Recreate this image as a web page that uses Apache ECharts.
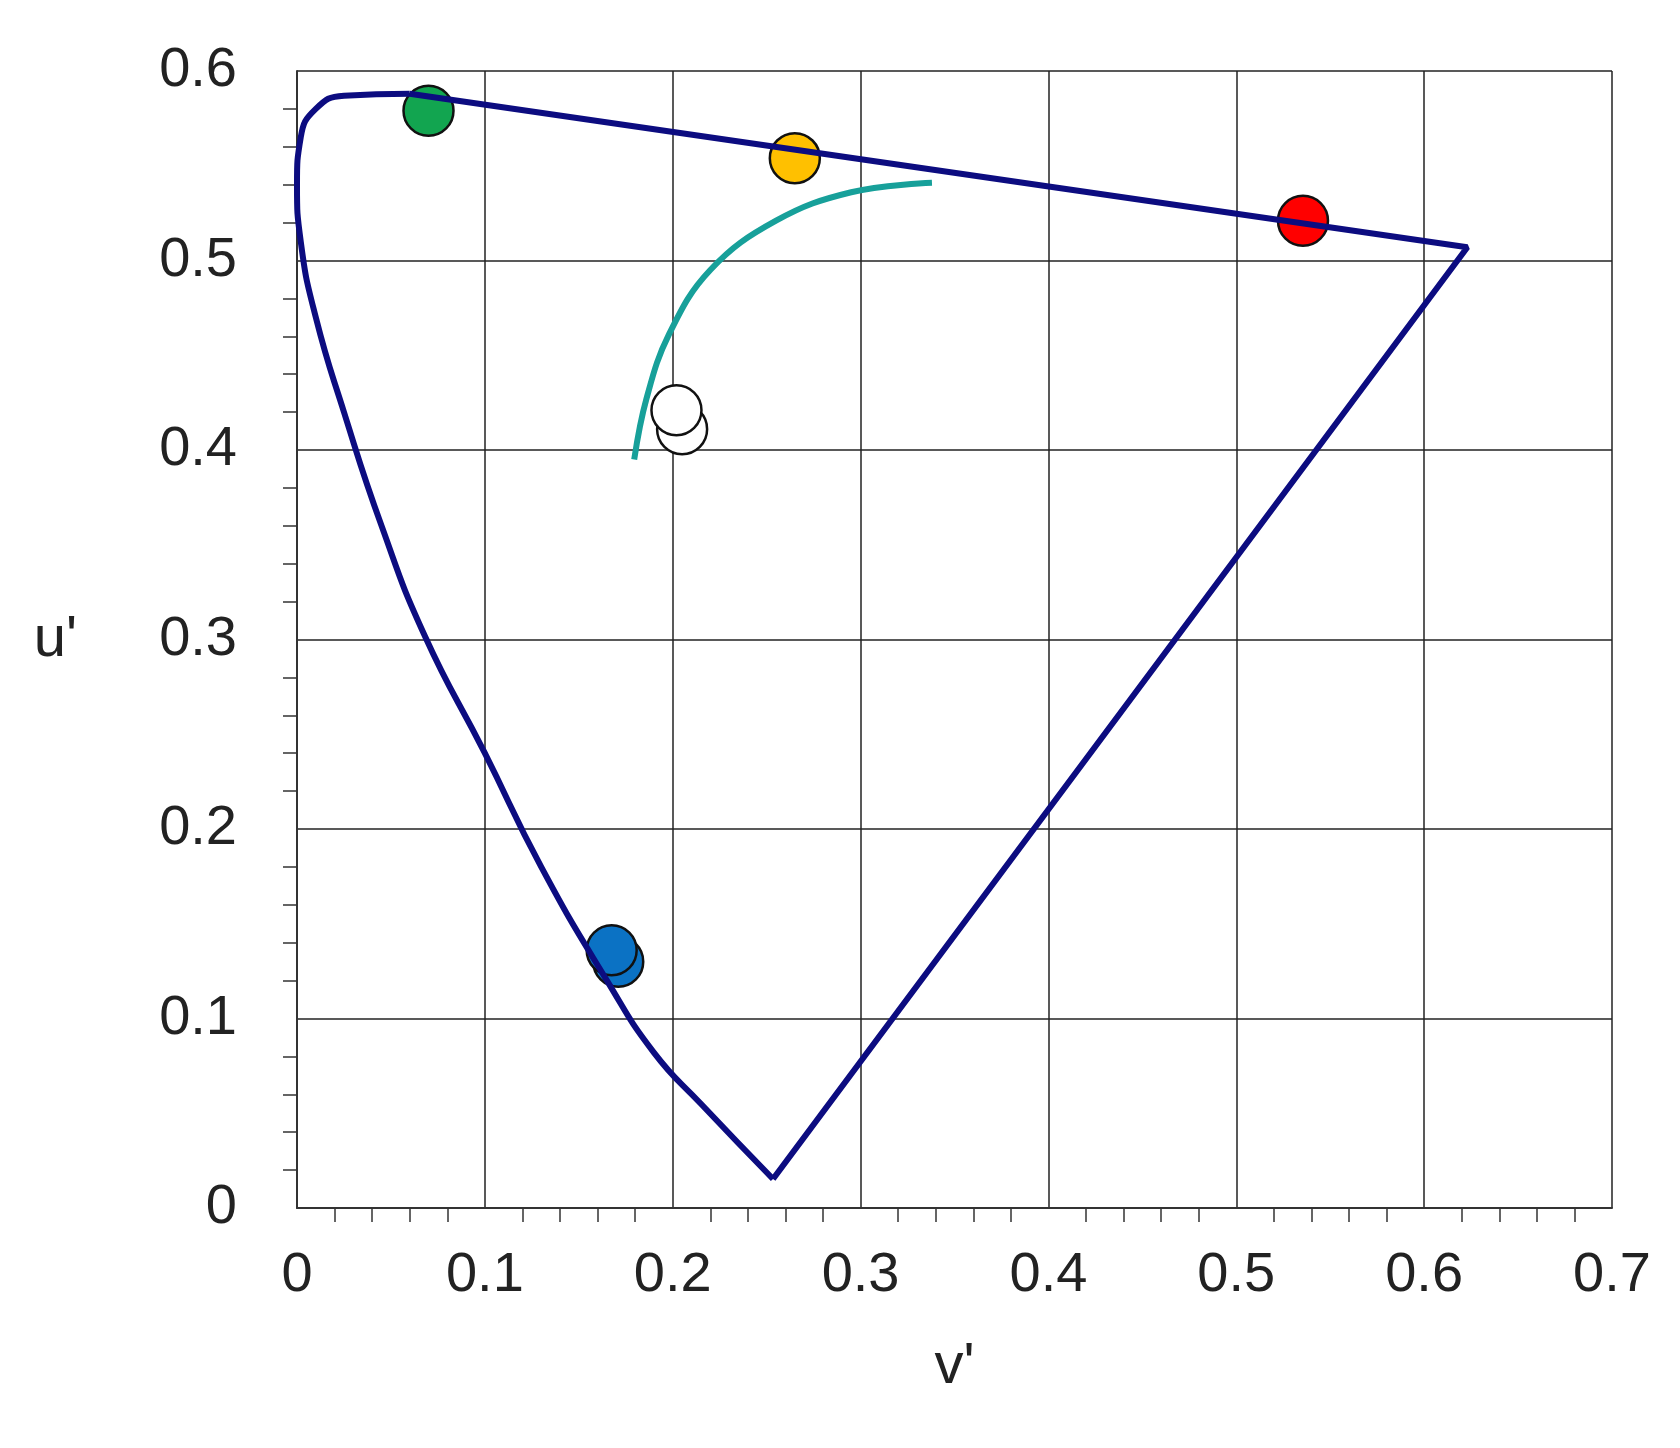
<!DOCTYPE html><html><head><meta charset="utf-8"><script src="https://cdn.jsdelivr.net/npm/echarts@6/dist/echarts.min.js"></script></head><body style="margin:0;background:#fff"><div id="c" style="width:1680px;height:1448px"></div><script>
const locusCurve=[[0.2534,0.0153],[0.215,0.055],[0.19,0.082],[0.165,0.12],[0.13,0.18],[0.1,0.24],[0.068,0.302],[0.045,0.36],[0.025,0.42],[0.01,0.47],[0.002,0.51],[0,0.54],[0.002,0.565],[0.01,0.58],[0.025,0.587],[0.06,0.588]];
const locusStraight=[[0.06,0.588],[0.623,0.507],[0.2534,0.0153]];
const planck=[[0.1795,0.395],[0.186,0.427],[0.198,0.461],[0.22,0.495],[0.255,0.521],[0.295,0.536],[0.338,0.541]];
const pts=[{v:[0.07,0.579],c:'#12a550'},{v:[0.265,0.554],c:'#ffc000'},{v:[0.5355,0.521],c:'#ff0000'},{v:[0.205,0.411],c:'#ffffff'},{v:[0.202,0.421],c:'#ffffff'},{v:[0.171,0.130],c:'#0b72c4'},{v:[0.1675,0.136],c:'#0b72c4'}];
const F='Liberation Sans';
const ax={type:'value',interval:0.1,axisLine:{show:true,lineStyle:{color:'#333',width:2}},
 axisTick:{show:false},minorTick:{show:true,splitNumber:5,inside:true,length:14,lineStyle:{color:'#333',width:1.5}},
 splitLine:{show:true,lineStyle:{color:'#222',width:1.5}},
 axisLabel:{fontFamily:F,fontSize:56,color:'#222',formatter:v=>String(Math.round(v*10)/10)}};
const c=echarts.init(document.getElementById('c'));
c.setOption({animation:false,grid:{left:297,right:68,top:71,bottom:240},
 xAxis:Object.assign({},ax,{min:0,max:0.7,name:"v'",nameLocation:'middle',nameGap:130,nameTextStyle:{fontFamily:F,fontSize:58,color:'#222'},axisLabel:Object.assign({},ax.axisLabel,{margin:40})}),
 yAxis:Object.assign({},ax,{min:0,max:0.6,name:"u'",nameLocation:'middle',nameRotate:0,nameGap:220,nameTextStyle:{fontFamily:F,fontSize:58,color:'#222'},axisLabel:Object.assign({},ax.axisLabel,{margin:60})}),
 series:[
 {type:'line',data:locusCurve,smooth:0.5,symbol:'none',lineStyle:{color:'#0c0c80',width:6}},
 {type:'line',data:locusStraight,symbol:'none',lineStyle:{color:'#0c0c80',width:6}},
 {type:'line',data:planck,smooth:0.4,symbol:'none',lineStyle:{color:'#17a09a',width:6}},
 {type:'scatter',symbolSize:50,data:pts.map(p=>({value:p.v,itemStyle:{color:p.c,opacity:1,borderColor:'#111',borderWidth:2.5}}))}
 ]});
</script></body></html>
